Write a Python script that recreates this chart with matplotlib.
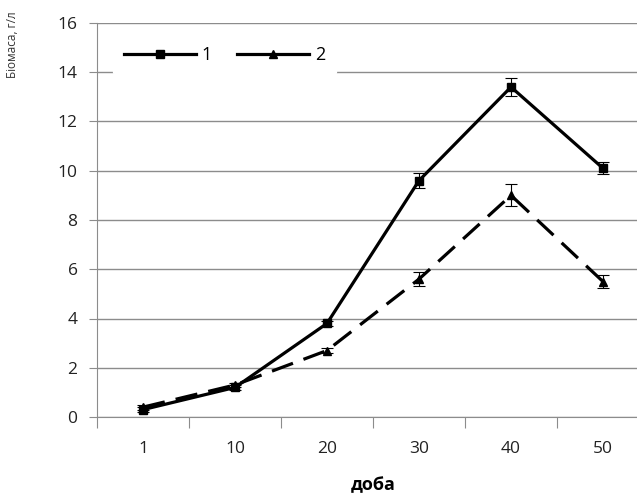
import numpy as np
import matplotlib
matplotlib.use("Agg")
import matplotlib.pyplot as plt
from matplotlib.lines import Line2D
from matplotlib import rcParams
rcParams['font.family'] = ['Open Sans', 'DejaVu Sans']

# data
days = ['1', '10', '20', '30', '40', '50']
s1 = [0.3, 1.2, 3.8, 9.6, 13.4, 10.1]
e1 = [0.1, 0.1, 0.1, 0.3, 0.35, 0.25]
s2 = [0.4, 1.3, 2.7, 5.6, 9.0, 5.5]
e2 = [0.1, 0.1, 0.1, 0.3, 0.45, 0.25]

W, H = 637, 499
fig = plt.figure(figsize=(W / 100, H / 100), dpi=100)
ax = fig.add_axes([97 / W, (H - 417) / H, 552 / W, 394 / H])

dash = (0, (7, 3.5))
x = np.arange(len(days))
ax.errorbar(x, s1, yerr=e1, color='black', lw=2.3, marker='s', ms=6,
            ecolor='black', elinewidth=0.8, capsize=4, capthick=0.8, zorder=3)
ax.errorbar(x, s2, yerr=e2, color='black', lw=2.3, ls=dash, marker='^', ms=6,
            ecolor='black', elinewidth=0.8, capsize=4, capthick=0.8, zorder=3)

ax.set_xlim(-0.5, len(days) - 0.5)
ax.set_ylim(0, 16)
ax.set_yticks(range(0, 17, 2))
ax.yaxis.grid(True, color='#8c8c8c', lw=1)
ax.set_axisbelow(True)

ax.set_xticks(np.arange(-0.5, len(days), 1))
ax.set_xticklabels([])
ax.set_xticks(x, minor=True)
ax.set_xticklabels(days, minor=True)
ax.tick_params(axis='x', which='major', length=8, color='#8c8c8c')
ax.tick_params(axis='x', which='minor', length=0, pad=17, labelsize=12.5, labelcolor='#222222')
ax.tick_params(axis='y', length=6, color='#8c8c8c', labelsize=12.5, labelcolor='#222222', pad=8)

for s in ['top', 'right']:
    ax.spines[s].set_visible(False)
for s in ['left', 'bottom']:
    ax.spines[s].set_color('#8c8c8c')

ax.set_xlabel('доба', fontsize=13, fontweight='bold', labelpad=14)
fig.text(6 / W, 1 - 45 / H, 'Біомаса, г/л', rotation=90, fontsize=8.5,
         color='#333333', ha='left', va='center')

handles = [Line2D([], [], color='black', lw=2.3, marker='s', ms=6),
           Line2D([], [], color='black', lw=2.3, marker='^', ms=6)]
leg = ax.legend(handles, ['1', '2'], ncol=2, loc='upper left',
                bbox_to_anchor=(104 / W, 1 - 26 / H),
                bbox_transform=fig.transFigure, frameon=True, fontsize=13,
                handlelength=4.0, handletextpad=0.3, columnspacing=1.4,
                borderpad=0.6)
leg.get_frame().set_edgecolor('white')
leg.get_frame().set_facecolor('white')
leg.get_frame().set_alpha(1)

fig.savefig('out.png', dpi=100)
